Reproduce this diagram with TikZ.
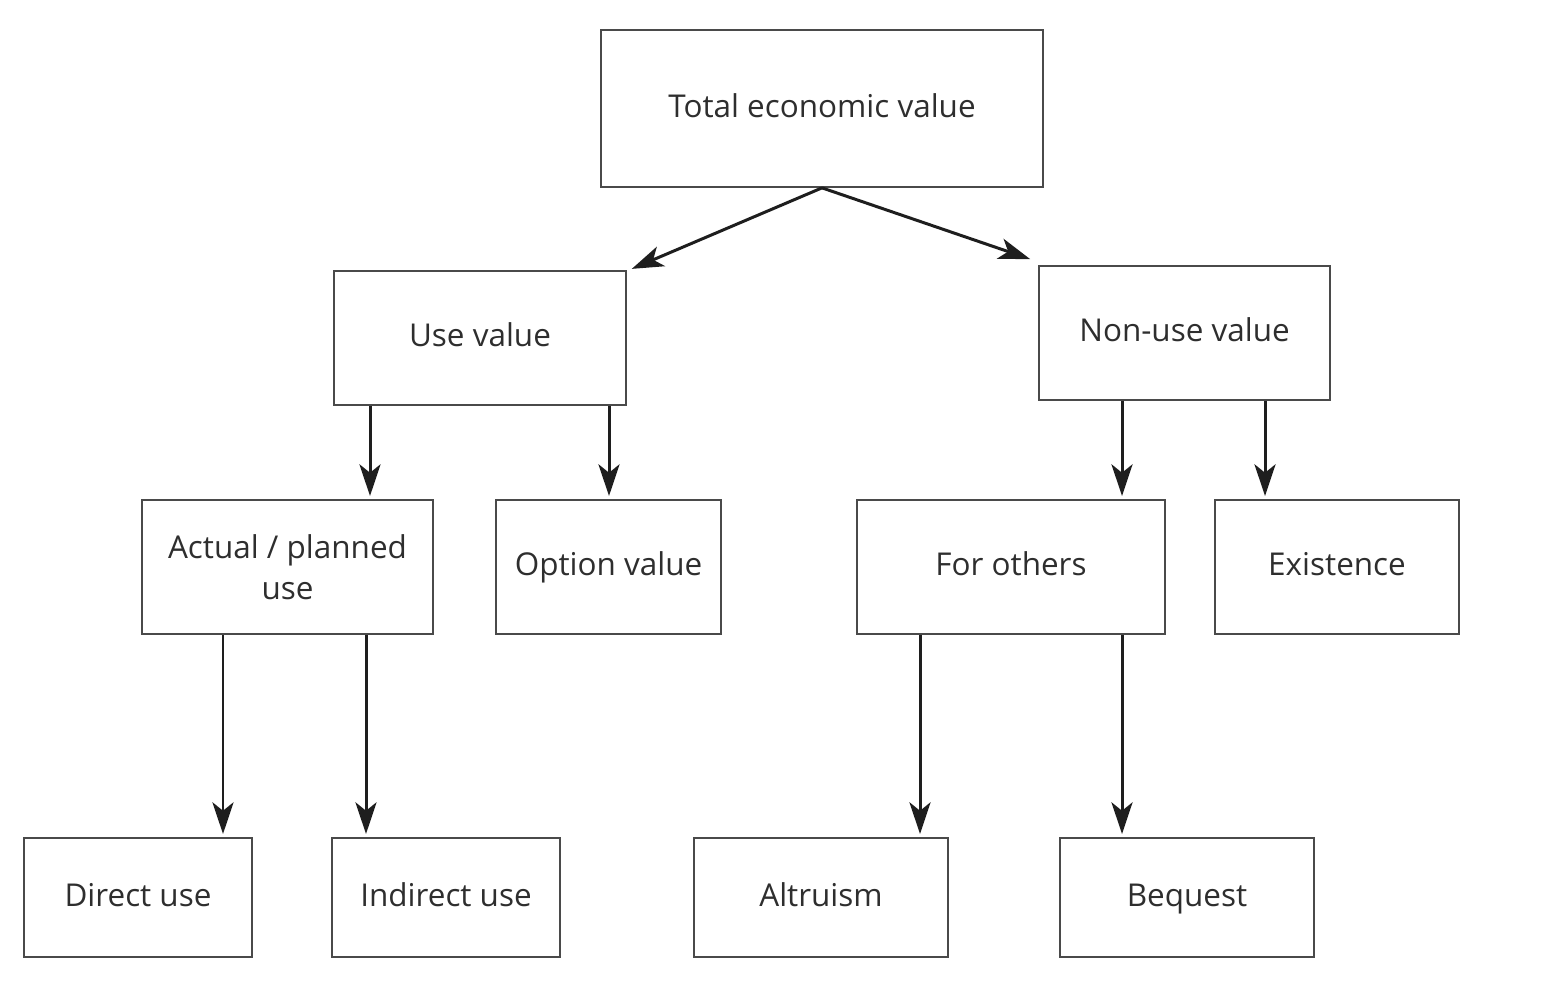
\documentclass[tikz,border=0pt]{standalone}
\usepackage{fontspec}
\setmainfont{Open Sans}
\usetikzlibrary{arrows.meta}
\tikzset{>={Stealth[length=9pt,width=6pt,inset=2.4pt]}}
\definecolor{boxline}{HTML}{4A4A4A}
\definecolor{txt}{HTML}{2E2E2E}
\definecolor{arrline}{HTML}{1E1E1E}

\begin{document}
\begin{tikzpicture}[
    valBox/.style={draw=boxline,line width=0.5pt,text=txt,align=center,
      inner sep=0pt,font=\fontsize{8.95}{11.7}\selectfont},
    oneLine/.style={text height=7pt,text depth=2pt},
    topRow/.style={valBox,oneLine,minimum height=1.57cm},
    midRow/.style={valBox,minimum height=1.34cm},
    lowRow/.style={valBox,oneLine,minimum height=1.19cm},
    arr/.style={->,line width=0.85pt,draw=arrline,shorten >=0.9pt}
  ]
  \useasboundingbox (0,0) rectangle (15.6,9.9);

  % top
  \node[topRow,minimum width=4.42cm] (total) at (8.22,8.815) {Total economic value};

  % use / non-use
  \node[midRow,oneLine,minimum width=2.92cm] (use)    at (4.80,6.52)   {Use value};
  \node[midRow,oneLine,minimum width=2.91cm] (nonuse) at (11.845,6.57) {Non-use value};

  % second level
  \node[midRow,minimum width=2.91cm] (actual)   at (2.875,4.23) {Actual / planned\\use};
  \node[midRow,oneLine,minimum width=2.25cm] (option)   at (6.085,4.23) {Option value};
  \node[midRow,oneLine,minimum width=3.08cm] (others)   at (10.11,4.23) {For others};
  \node[midRow,oneLine,minimum width=2.44cm] (existence) at (13.37,4.23) {Existence};

  % bottom
  \node[lowRow,minimum width=2.28cm] (direct)   at (1.38,0.925)  {Direct use};
  \node[lowRow,minimum width=2.28cm] (indirect) at (4.46,0.925)  {Indirect use};
  \node[lowRow,minimum width=2.54cm] (altruism) at (8.21,0.925)  {Altruism};
  \node[lowRow,minimum width=2.54cm] (bequest)  at (11.87,0.925) {Bequest};

  % arrow columns
  \coordinate (xAct) at (3.70,0);
  \coordinate (xOpt) at (6.09,0);
  \coordinate (xOth) at (11.22,0);
  \coordinate (xEx)  at (12.65,0);
  \coordinate (xDir) at (2.23,0);
  \coordinate (xInd) at (3.66,0);
  \coordinate (xAlt) at (9.20,0);
  \coordinate (xBeq) at (11.22,0);

  % arrows
  \draw[arr] (total.south) -- ([shift={(0.02,0.0)}]use.north east);
  \draw[arr] (total.south) -- ([shift={(-0.05,0.05)}]nonuse.north west);

  \draw[arr] (use.south -| xAct) -- (actual.north -| xAct);
  \draw[arr] (use.south -| xOpt) -- (option.north -| xOpt);
  \draw[arr] (nonuse.south -| xOth) -- (others.north -| xOth);
  \draw[arr] (nonuse.south -| xEx) -- (existence.north -| xEx);

  \draw[arr] (actual.south -| xDir) -- (direct.north -| xDir);
  \draw[arr] (actual.south -| xInd) -- (indirect.north -| xInd);
  \draw[arr] (others.south -| xAlt) -- (altruism.north -| xAlt);
  \draw[arr] (others.south -| xBeq) -- (bequest.north -| xBeq);
\end{tikzpicture}
\end{document}
